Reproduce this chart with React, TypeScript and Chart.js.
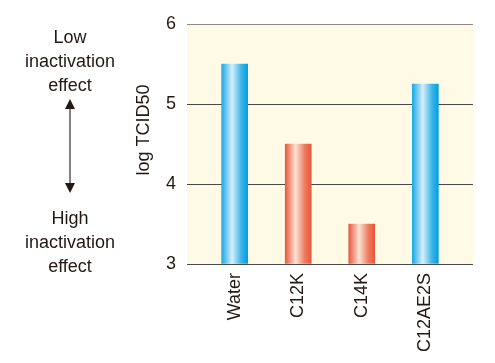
import React, { useEffect, useRef } from "react";
import { Chart, registerables } from "chart.js";

Chart.register(...registerables);

const categories: string[] = ["Water", "C12K", "C14K", "C12AE2S"];
const values: number[] = [5.5, 4.5, 3.5, 5.25];
const barKinds: string[] = ["blue", "red", "red", "blue"];
const yTicks: number[] = [3, 4, 5, 6];
const yTitle = "log TCID50";
const topNote: string[] = ["Low", "inactivation", "effect"];
const bottomNote: string[] = ["High", "inactivation", "effect"];

const FONT = '"Liberation Sans", Arial, sans-serif';
const TEXT = "#231815";

const bgPlugin = {
  id: "bgPlugin",
  beforeDraw(chart: any) {
    const { ctx, chartArea } = chart;
    if (!chartArea) return;
    ctx.save();
    ctx.fillStyle = "#fefae6";
    ctx.fillRect(chartArea.left, chartArea.top, chartArea.right - chartArea.left, chartArea.bottom - chartArea.top);
    ctx.restore();
  },
  afterDraw(chart: any) {
    const { ctx } = chart;
    ctx.save();
    ctx.fillStyle = TEXT;
    ctx.font = `18px ${FONT}`;
    ctx.textAlign = "center";
    ctx.textBaseline = "middle";
    const cx = 70;
    topNote.forEach((t, i) => ctx.fillText(t, cx, 38 + i * 24));
    bottomNote.forEach((t, i) => ctx.fillText(t, cx, 219 + i * 24));
    // arrow
    ctx.strokeStyle = "#595757";
    ctx.lineWidth = 1.5;
    ctx.beginPath();
    ctx.moveTo(cx, 106);
    ctx.lineTo(cx, 186);
    ctx.stroke();
    ctx.fillStyle = TEXT;
    ctx.beginPath();
    ctx.moveTo(cx, 99);
    ctx.lineTo(cx - 5, 109);
    ctx.lineTo(cx + 5, 109);
    ctx.closePath();
    ctx.fill();
    ctx.beginPath();
    ctx.moveTo(cx, 193);
    ctx.lineTo(cx - 5, 183);
    ctx.lineTo(cx + 5, 183);
    ctx.closePath();
    ctx.fill();
    // y title
    ctx.translate(144, 130);
    ctx.rotate(-Math.PI / 2);
    ctx.fillStyle = TEXT;
    ctx.fillText(yTitle, 0, 0);
    ctx.restore();
  },
};

export default function App() {
  const ref = useRef<HTMLCanvasElement>(null);
  useEffect(() => {
    document.body.style.margin = "0";
    const canvas = ref.current!;
    const barWidth = 26;
    const chart = new Chart(canvas, {
      type: "bar",
      data: {
        datasets: [
          {
            data: values.map((v, i) => ({ x: i, y: v })),
            base: 3,
            barThickness: barWidth,
            borderWidth: 0,
            backgroundColor: (context: any) => {
              const c = context.chart;
              const idx = context.dataIndex;
              const kind = barKinds[idx] || "blue";
              const fallback = kind === "blue" ? "#00a6e4" : "#e8573a";
              if (!c.chartArea || !c.scales || !c.scales.x || idx === undefined) return fallback;
              const px = c.scales.x.getPixelForValue(idx);
              const l = px - barWidth / 2;
              const g = c.ctx.createLinearGradient(l, 0, l + barWidth, 0);
              if (kind === "blue") {
                g.addColorStop(0, "#1aa9e4");
                g.addColorStop(0.4, "#d6f0fb");
                g.addColorStop(0.75, "#3db5e8");
                g.addColorStop(1, "#00a0e0");
              } else {
                g.addColorStop(0, "#e85a3c");
                g.addColorStop(0.4, "#fbe2d6");
                g.addColorStop(0.75, "#ee7c5e");
                g.addColorStop(1, "#e8563a");
              }
              return g;
            },
          },
        ],
      },
      options: {
        animation: false,
        responsive: false,
        maintainAspectRatio: false,
        layout: { padding: { left: 0, top: 24, right: 22, bottom: 0 } },
        plugins: { legend: { display: false }, tooltip: { enabled: false } },
        scales: {
          x: {
            type: "linear",
            offset: false,
            min: -0.75,
            max: 3.75,
            afterBuildTicks: (scale: any) => {
              scale.ticks = categories.map((_, i) => ({ value: i }));
            },
            afterFit: (scale: any) => {
              scale.height = 99;
            },
            grid: { display: false, drawTicks: false },
            border: { display: false },
            ticks: {
              autoSkip: false,
              minRotation: 90,
              maxRotation: 90,
              padding: 9,
              color: TEXT,
              font: { size: 18, family: FONT },
              callback: (v: any) => categories[v as number] ?? "",
            },
          },
          y: {
            min: 3,
            max: 6,
            afterBuildTicks: (scale: any) => {
              scale.ticks = yTicks.map((v) => ({ value: v }));
            },
            afterFit: (scale: any) => {
              scale.width = 187;
            },
            grid: {
              drawTicks: false,
              color: (ctx: any) => (ctx.tick && ctx.tick.value === 6 ? "#8a8a8a" : "#4a4a4a"),
              lineWidth: 1,
            },
            border: { display: false },
            ticks: {
              padding: 11,
              color: TEXT,
              font: { size: 18, family: FONT },
            },
          },
        },
      },
      plugins: [bgPlugin],
    } as any);
    return () => chart.destroy();
  }, []);
  return <canvas ref={ref} width={495} height={363} style={{ display: "block" }} />;
}
